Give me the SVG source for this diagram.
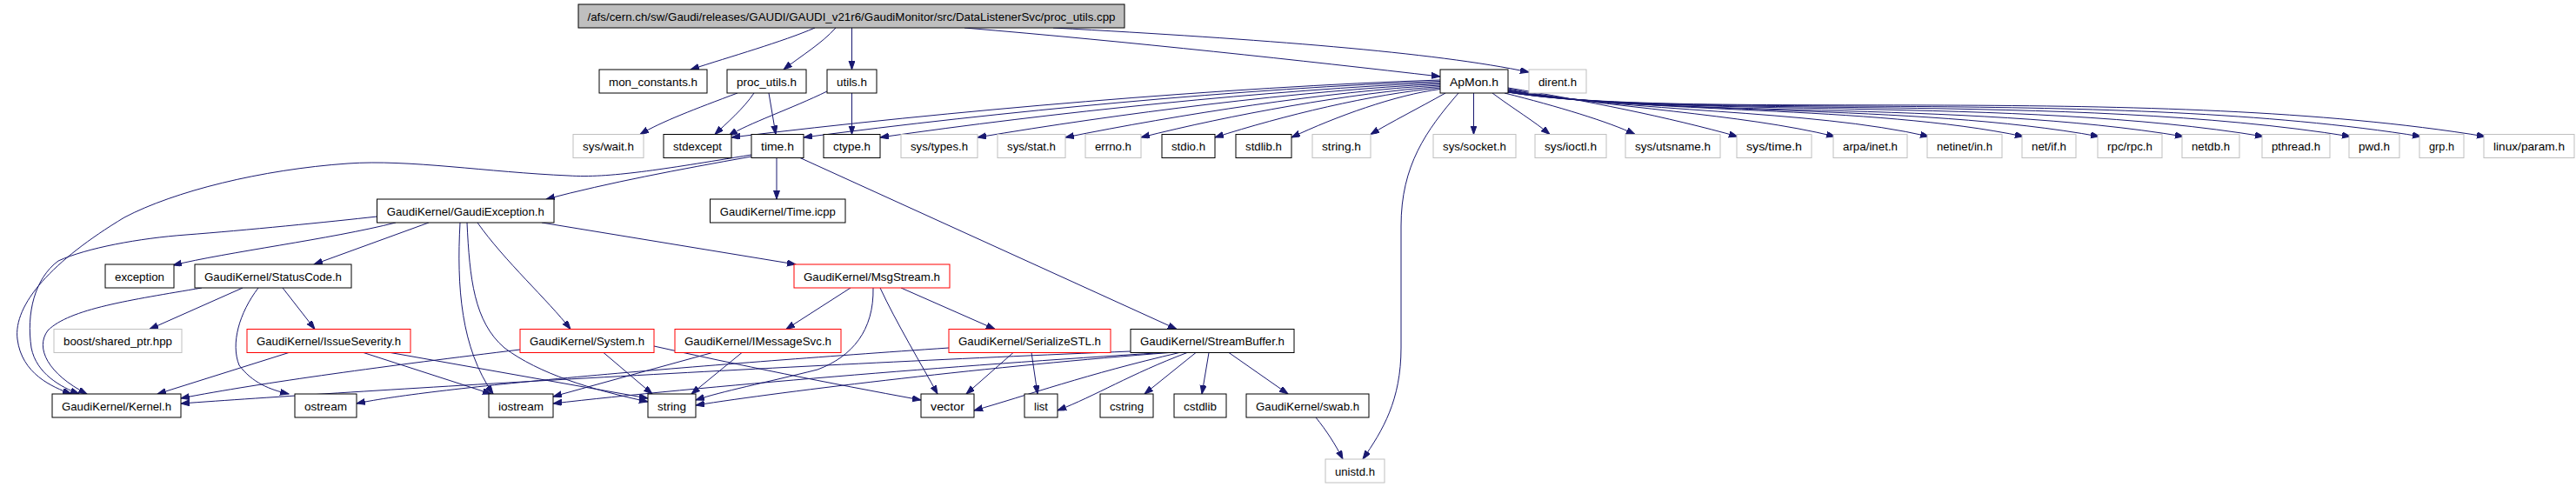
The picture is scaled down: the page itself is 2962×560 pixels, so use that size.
<svg xmlns="http://www.w3.org/2000/svg" width="2962" height="560" viewBox="0 0 2962 560">
<style>
.e path{fill:none;stroke:#191970;stroke-width:1;marker-end:url(#ah)}
rect{fill:#fff;stroke:#000;stroke-width:1}
.g rect{stroke:#bfbfbf}
.r rect{stroke:#ff0000}
.root rect{fill:#bfbfbf}
text{font-family:"Liberation Sans",Arial,sans-serif;font-size:13.5px;fill:#000;text-anchor:middle}
</style>
<defs>
<marker id="ah" markerUnits="userSpaceOnUse" markerWidth="11" markerHeight="8" refX="10" refY="3.5" orient="auto"><path d="M0,0 L10,3.5 L0,7 z" fill="#191970" stroke="#191970" stroke-width="1"/></marker>
</defs>
<rect x="0" y="0" width="2962" height="560" style="fill:#fff;stroke:none"/>
<g class="e" id="edges">
<path d="M937,32 C900,48 840,65 794,80"/>
<path d="M961,32 C945,50 920,65 901,80"/>
<path d="M979.5,32 L979.5,80"/>
<path d="M1109,32 C1300,48 1500,70 1656,88"/>
<path d="M1211,32 C1450,45 1650,60 1758,83"/>
<path d="M848,107 C800,125 760,140 736,154.5"/>
<path d="M867,107 C855,125 835,142 822,154.5"/>
<path d="M884,107 L892,154.5"/>
<path d="M951,105 C910,125 860,142 838,156"/>
<path d="M979.5,107 L979.5,154.5"/>
<path d="M1656,92 C1411,100 1086,128 841,158"/>
<path d="M1656,93.5 C1436,101 1144,129 924,158"/>
<path d="M1656,95 C1463,103 1205,130 1012,158"/>
<path d="M1656,96.5 C1496,104 1284,131 1124,158"/>
<path d="M1656,98 C1527,105 1354,132 1225,158"/>
<path d="M1656,99.5 C1553,107 1415,132 1312,158"/>
<path d="M1656,101 C1578,108 1475,133 1397,158"/>
<path d="M1656,102.5 C1605,109 1536,134 1485,158"/>
<path d="M1662,107 C1630,125 1600,140 1576,154.5"/>
<path d="M1694.5,107 L1694.5,154.5"/>
<path d="M1716,107 C1740,125 1765,140 1782,154.5"/>
<path d="M1730,107 C1790,122 1850,140 1880,154.5"/>
<path d="M1734,101 C1820,115 1920,135 1998,157"/>
<path d="M1734,102 C1850,125 2000,130 2110,157"/>
<path d="M1734,103 C1870,130 2080,125 2218,157"/>
<path d="M1734,104 C1890,132 2150,120 2327,157"/>
<path d="M1734,104 C1900,134 2200,118 2414,157"/>
<path d="M1734,105 C1910,136 2260,115 2511,157"/>
<path d="M1734,105 C1920,137 2320,110 2603,157"/>
<path d="M1734,106 C1930,138 2380,105 2703,157"/>
<path d="M1734,106 C1940,139 2430,100 2784,157"/>
<path d="M1734,106 C1950,140 2480,95 2858,157"/>
<path d="M1677,107 C1640,150 1611,190 1611,260 L1611,400 C1611,460 1590,495 1567,528"/>
<path d="M864,180 C780,195 700,210 628,229"/>
<path d="M864,178 C760,195 700,205 654,202 C560,198 470,183 400,188 C300,195 200,220 143,250 C60,300 15,350 20,390 C25,430 60,445 82,453"/>
<path d="M893,181.5 L893,229"/>
<path d="M920,181.5 L1353,378.5"/>
<path d="M433.5,249 C380,255 280,265 214,270 C160,274 100,285 67,300 C40,320 30,360 36,400 C42,430 70,445 91,453"/>
<path d="M455,256 C380,275 260,290 199,305"/>
<path d="M493,256 L361,304"/>
<path d="M529,256 C525,330 530,400 567,453"/>
<path d="M537,256 C540,320 545,370 580,400 C620,430 680,448 745,462"/>
<path d="M549,256 C580,300 630,345 656,378.5"/>
<path d="M623,256 L915,304"/>
<path d="M232,331 C150,345 80,355 55,380 C40,400 55,430 100,453"/>
<path d="M279,331 L172,378.5"/>
<path d="M297,331 C275,360 265,395 275,420 C290,440 310,448 332,453"/>
<path d="M325,331 L362,378.5"/>
<path d="M332,405.5 L181,453"/>
<path d="M418,405.5 L565,453"/>
<path d="M449,405.5 L745,458"/>
<path d="M598,402 C450,420 300,440 208,458"/>
<path d="M694,405.5 L750,453"/>
<path d="M752,398 C850,420 950,440 1059,460"/>
<path d="M819,405.5 L636,456"/>
<path d="M853,405.5 L795,453"/>
<path d="M978,331 L904,378.5"/>
<path d="M1004,331 C1005,380 980,410 940,425 C880,440 830,450 800,460"/>
<path d="M1012,331 C1030,370 1060,420 1078,453"/>
<path d="M1036,331 L1144,378.5"/>
<path d="M1091,400 C800,420 500,445 410,464"/>
<path d="M1165,405.5 L1111,453"/>
<path d="M1186,405.5 L1193,453"/>
<path d="M1300,404 C900,420 400,450 208,464"/>
<path d="M1337,405.5 C1100,420 800,445 636,464"/>
<path d="M1345,405.5 C1150,420 900,450 800,466"/>
<path d="M1356,405.5 C1250,430 1180,455 1120,472"/>
<path d="M1365,405.5 C1300,430 1260,455 1216,472"/>
<path d="M1375,405.5 L1316,453"/>
<path d="M1390,405.5 L1382,453"/>
<path d="M1413,405.5 L1481,453"/>
<path d="M1513,480 C1525,495 1535,510 1544,528"/>
</g>
<g id="n-root" class="root"><rect x="665" y="5" width="628" height="27"/><text x="979" y="23.8" textLength="607" lengthAdjust="spacingAndGlyphs">/afs/cern.ch/sw/Gaudi/releases/GAUDI/GAUDI_v21r6/GaudiMonitor/src/DataListenerSvc/proc_utils.cpp</text></g>
<g id="n-mon"><rect x="689" y="80" width="124" height="27"/><text x="751" y="98.8" textLength="102" lengthAdjust="spacingAndGlyphs">mon_constants.h</text></g>
<g id="n-proc"><rect x="836" y="80" width="91" height="27"/><text x="881.5" y="98.8" textLength="69" lengthAdjust="spacingAndGlyphs">proc_utils.h</text></g>
<g id="n-utils"><rect x="951" y="80" width="57" height="27"/><text x="979.5" y="98.8" textLength="35" lengthAdjust="spacingAndGlyphs">utils.h</text></g>
<g id="n-apmon"><rect x="1656" y="80" width="78" height="27"/><text x="1695" y="98.8" textLength="56" lengthAdjust="spacingAndGlyphs">ApMon.h</text></g>
<g id="n-dirent" class="g"><rect x="1758" y="80" width="66" height="27"/><text x="1791" y="98.8" textLength="44" lengthAdjust="spacingAndGlyphs">dirent.h</text></g>
<g id="n-syswait" class="g"><rect x="659" y="154.5" width="81" height="27"/><text x="699.5" y="173.3" textLength="59" lengthAdjust="spacingAndGlyphs">sys/wait.h</text></g>
<g id="n-stdexcept"><rect x="763" y="154.5" width="78" height="27"/><text x="802" y="173.3" textLength="56" lengthAdjust="spacingAndGlyphs">stdexcept</text></g>
<g id="n-time"><rect x="864" y="154.5" width="60" height="27"/><text x="894" y="173.3" textLength="38" lengthAdjust="spacingAndGlyphs">time.h</text></g>
<g id="n-ctype"><rect x="947" y="154.5" width="65" height="27"/><text x="979.5" y="173.3" textLength="43" lengthAdjust="spacingAndGlyphs">ctype.h</text></g>
<g id="n-systypes" class="g"><rect x="1036" y="154.5" width="88" height="27"/><text x="1080" y="173.3" textLength="66" lengthAdjust="spacingAndGlyphs">sys/types.h</text></g>
<g id="n-sysstat" class="g"><rect x="1147" y="154.5" width="78" height="27"/><text x="1186" y="173.3" textLength="56" lengthAdjust="spacingAndGlyphs">sys/stat.h</text></g>
<g id="n-errno" class="g"><rect x="1248" y="154.5" width="64" height="27"/><text x="1280" y="173.3" textLength="42" lengthAdjust="spacingAndGlyphs">errno.h</text></g>
<g id="n-stdio"><rect x="1336" y="154.5" width="61" height="27"/><text x="1366.5" y="173.3" textLength="39" lengthAdjust="spacingAndGlyphs">stdio.h</text></g>
<g id="n-stdlib"><rect x="1421" y="154.5" width="64" height="27"/><text x="1453" y="173.3" textLength="42" lengthAdjust="spacingAndGlyphs">stdlib.h</text></g>
<g id="n-stringh" class="g"><rect x="1509" y="154.5" width="67" height="27"/><text x="1542.5" y="173.3" textLength="45" lengthAdjust="spacingAndGlyphs">string.h</text></g>
<g id="n-syssocket" class="g"><rect x="1648" y="154.5" width="95" height="27"/><text x="1695.5" y="173.3" textLength="73" lengthAdjust="spacingAndGlyphs">sys/socket.h</text></g>
<g id="n-sysioctl" class="g"><rect x="1765" y="154.5" width="82" height="27"/><text x="1806" y="173.3" textLength="60" lengthAdjust="spacingAndGlyphs">sys/ioctl.h</text></g>
<g id="n-sysutsname" class="g"><rect x="1869" y="154.5" width="109" height="27"/><text x="1923.5" y="173.3" textLength="87" lengthAdjust="spacingAndGlyphs">sys/utsname.h</text></g>
<g id="n-systime" class="g"><rect x="1997" y="154.5" width="86" height="27"/><text x="2040" y="173.3" textLength="64" lengthAdjust="spacingAndGlyphs">sys/time.h</text></g>
<g id="n-arpainet" class="g"><rect x="2108" y="154.5" width="85" height="27"/><text x="2150.5" y="173.3" textLength="63" lengthAdjust="spacingAndGlyphs">arpa/inet.h</text></g>
<g id="n-netinetin" class="g"><rect x="2216" y="154.5" width="86" height="27"/><text x="2259" y="173.3" textLength="64" lengthAdjust="spacingAndGlyphs">netinet/in.h</text></g>
<g id="n-netif" class="g"><rect x="2325" y="154.5" width="62" height="27"/><text x="2356" y="173.3" textLength="40" lengthAdjust="spacingAndGlyphs">net/if.h</text></g>
<g id="n-rpcrpc" class="g"><rect x="2412" y="154.5" width="74" height="27"/><text x="2449" y="173.3" textLength="52" lengthAdjust="spacingAndGlyphs">rpc/rpc.h</text></g>
<g id="n-netdb" class="g"><rect x="2509" y="154.5" width="66" height="27"/><text x="2542" y="173.3" textLength="44" lengthAdjust="spacingAndGlyphs">netdb.h</text></g>
<g id="n-pthread" class="g"><rect x="2601" y="154.5" width="78" height="27"/><text x="2640" y="173.3" textLength="56" lengthAdjust="spacingAndGlyphs">pthread.h</text></g>
<g id="n-pwd" class="g"><rect x="2701" y="154.5" width="58" height="27"/><text x="2730" y="173.3" textLength="36" lengthAdjust="spacingAndGlyphs">pwd.h</text></g>
<g id="n-grp" class="g"><rect x="2782" y="154.5" width="51" height="27"/><text x="2807.5" y="173.3" textLength="29" lengthAdjust="spacingAndGlyphs">grp.h</text></g>
<g id="n-linuxparam" class="g"><rect x="2856" y="154.5" width="104" height="27"/><text x="2908" y="173.3" textLength="82" lengthAdjust="spacingAndGlyphs">linux/param.h</text></g>
<g id="n-gaudiexception"><rect x="433.5" y="229" width="203.5" height="27"/><text x="535.25" y="247.8" textLength="181" lengthAdjust="spacingAndGlyphs">GaudiKernel/GaudiException.h</text></g>
<g id="n-timeicpp"><rect x="816.5" y="229" width="155.5" height="27"/><text x="894.25" y="247.8" textLength="133" lengthAdjust="spacingAndGlyphs">GaudiKernel/Time.icpp</text></g>
<g id="n-exception"><rect x="121" y="304" width="79" height="27"/><text x="160.5" y="322.8" textLength="57" lengthAdjust="spacingAndGlyphs">exception</text></g>
<g id="n-statuscode"><rect x="224" y="304" width="180" height="27"/><text x="314" y="322.8" textLength="158" lengthAdjust="spacingAndGlyphs">GaudiKernel/StatusCode.h</text></g>
<g id="n-msgstream" class="r"><rect x="913" y="304" width="179" height="27"/><text x="1002.5" y="322.8" textLength="157" lengthAdjust="spacingAndGlyphs">GaudiKernel/MsgStream.h</text></g>
<g id="n-boost" class="g"><rect x="62" y="378.5" width="147" height="27"/><text x="135.5" y="397.3" textLength="125" lengthAdjust="spacingAndGlyphs">boost/shared_ptr.hpp</text></g>
<g id="n-issueseverity" class="r"><rect x="284" y="378.5" width="188" height="27"/><text x="378" y="397.3" textLength="166" lengthAdjust="spacingAndGlyphs">GaudiKernel/IssueSeverity.h</text></g>
<g id="n-system" class="r"><rect x="598" y="378.5" width="154" height="27"/><text x="675" y="397.3" textLength="132" lengthAdjust="spacingAndGlyphs">GaudiKernel/System.h</text></g>
<g id="n-imessagesvc" class="r"><rect x="776" y="378.5" width="191" height="27"/><text x="871.5" y="397.3" textLength="169" lengthAdjust="spacingAndGlyphs">GaudiKernel/IMessageSvc.h</text></g>
<g id="n-serializestl" class="r"><rect x="1091" y="378.5" width="186" height="27"/><text x="1184" y="397.3" textLength="164" lengthAdjust="spacingAndGlyphs">GaudiKernel/SerializeSTL.h</text></g>
<g id="n-streambuffer"><rect x="1300" y="378.5" width="188" height="27"/><text x="1394" y="397.3" textLength="166" lengthAdjust="spacingAndGlyphs">GaudiKernel/StreamBuffer.h</text></g>
<g id="n-kernel"><rect x="60" y="453" width="148" height="27"/><text x="134" y="471.8" textLength="126" lengthAdjust="spacingAndGlyphs">GaudiKernel/Kernel.h</text></g>
<g id="n-ostream"><rect x="339" y="453" width="71" height="27"/><text x="374.5" y="471.8" textLength="49" lengthAdjust="spacingAndGlyphs">ostream</text></g>
<g id="n-iostream"><rect x="562" y="453" width="74" height="27"/><text x="599" y="471.8" textLength="52" lengthAdjust="spacingAndGlyphs">iostream</text></g>
<g id="n-string"><rect x="745" y="453" width="55" height="27"/><text x="772.5" y="471.8" textLength="33" lengthAdjust="spacingAndGlyphs">string</text></g>
<g id="n-vector"><rect x="1059" y="453" width="61" height="27"/><text x="1089.5" y="471.8" textLength="39" lengthAdjust="spacingAndGlyphs">vector</text></g>
<g id="n-list"><rect x="1178" y="453" width="38" height="27"/><text x="1197" y="471.8" textLength="16" lengthAdjust="spacingAndGlyphs">list</text></g>
<g id="n-cstring"><rect x="1265" y="453" width="61" height="27"/><text x="1295.5" y="471.8" textLength="39" lengthAdjust="spacingAndGlyphs">cstring</text></g>
<g id="n-cstdlib"><rect x="1350" y="453" width="60" height="27"/><text x="1380" y="471.8" textLength="38" lengthAdjust="spacingAndGlyphs">cstdlib</text></g>
<g id="n-swab"><rect x="1433" y="453" width="141" height="27"/><text x="1503.5" y="471.8" textLength="119" lengthAdjust="spacingAndGlyphs">GaudiKernel/swab.h</text></g>
<g id="n-unistd" class="g"><rect x="1524" y="528" width="68" height="27"/><text x="1558" y="546.8" textLength="46" lengthAdjust="spacingAndGlyphs">unistd.h</text></g>
</svg>
